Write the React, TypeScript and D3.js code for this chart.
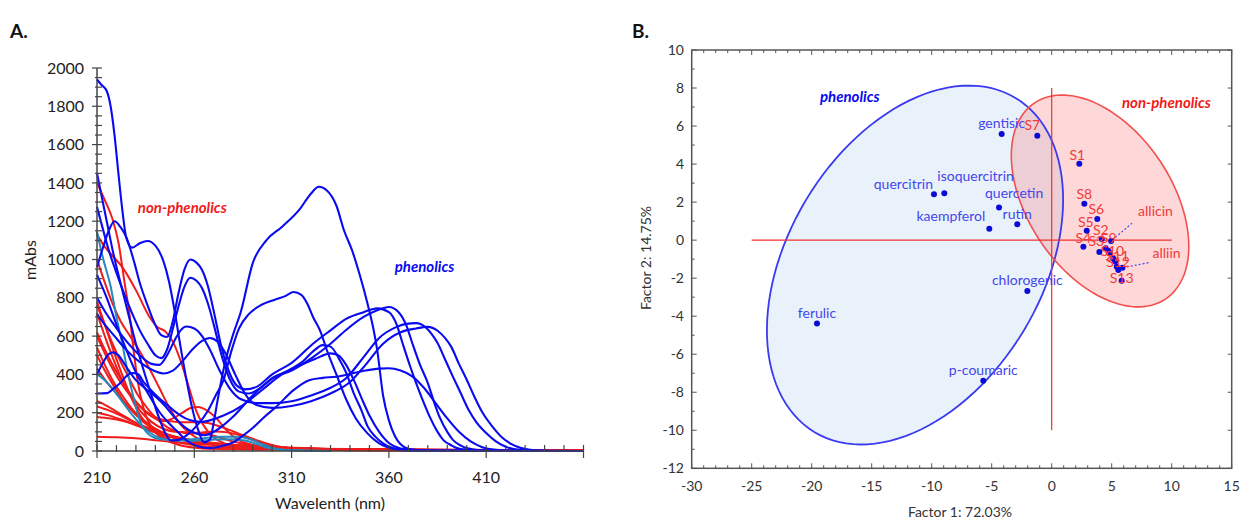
import React from 'react';
import * as d3 from 'd3';

type Pt = [number, number];

// ---------- Panel A: UV spectra, [wavelength (nm), mAbs] ----------
const phenolic1: Pt[] = [[210,1940],[212,1915],[215,1880],[217,1800],[219,1650],[221,1450],[223,1260],[225,1115],[228,1062],[232,1085],[236,1097],[240,1072],[244,995],[247,885],[250,725],[253,540],[256,370],[259,220],[262,110],[265,45],[268,60],[270,150],[272,266],[276,470],[280,610],[284,730],[290,980],[297,1100],[305,1170],[314,1260],[320,1345],[324,1380],[328,1362],[333,1282],[337,1150],[341,1050],[345,920],[349,770],[352,640],[354,527],[357,290],[360,160],[363,80],[366,35],[370,12],[380,2],[460,0]];
const phenolic2: Pt[] = [[210,1450],[212,1350],[215,1200],[218,1050],[222,880],[226,720],[230,560],[234,420],[238,290],[242,170],[245,95],[248,55],[252,58],[257,90],[262,140],[267,210],[271,290],[275,370],[279,520],[283,640],[288,715],[294,760],[302,792],[307,810],[311,830],[315,815],[318,770],[321,700],[325,620],[328,530],[333,400],[338,270],[343,170],[349,92],[355,40],[361,14],[370,2],[460,0]];
const phenolic3: Pt[] = [[210,960],[213,1060],[216,1150],[219,1200],[222,1170],[225,1118],[229,990],[232,877],[236,760],[239,680],[243,605],[246,595],[249,680],[252,830],[255,950],[258,1000],[261,985],[264,945],[267,860],[270,730],[274,540],[278,410],[282,340],[286,322],[292,335],[300,400],[310,460],[321,560],[330,630],[338,690],[347,725],[354,745],[360,725],[364,660],[367,564],[371,440],[374,355],[378,250],[381,178],[385,100],[388,57],[392,30],[395,15],[402,4],[412,0],[460,0]];
const phenolic4: Pt[] = [[210,1275],[213,1160],[216,1050],[220,930],[224,820],[228,720],[232,630],[236,560],[240,500],[243,485],[246,530],[249,640],[252,760],[255,860],[258,905],[261,890],[264,850],[267,770],[270,660],[274,500],[278,380],[283,310],[288,300],[294,330],[300,380],[310,420],[321,490],[330,560],[338,632],[347,700],[354,735],[360,752],[365,725],[369,655],[372,564],[376,450],[380,355],[383,262],[386,178],[390,100],[393,57],[397,28],[400,15],[408,3],[420,0],[460,0]];
const phenolic5: Pt[] = [[210,800],[214,730],[218,670],[223,600],[228,540],[233,490],[238,455],[242,450],[246,500],[250,580],[253,630],[256,650],[260,640],[264,600],[268,530],[273,420],[278,330],[284,270],[292,250],[300,250],[310,260],[320,290],[330,330],[338,380],[347,490],[355,590],[364,648],[369,664],[374,668],[379,645],[382,610],[385,564],[389,475],[393,386],[397,300],[401,214],[405,150],[410,94],[415,50],[420,22],[428,5],[440,0],[460,0]];
const phenolic6: Pt[] = [[210,715],[214,660],[219,600],[224,540],[229,490],[234,450],[239,420],[244,405],[249,420],[254,470],[259,530],[264,575],[268,590],[272,570],[276,510],[281,400],[286,300],[292,240],[300,225],[310,235],[320,260],[330,300],[340,360],[348,450],[357,560],[366,620],[374,640],[380,648],[385,628],[389,588],[392,545],[396,455],[400,372],[404,282],[408,202],[413,130],[418,72],[423,36],[428,15],[436,3],[450,0],[460,0]];
const phenolic7: Pt[] = [[210,400],[213,460],[216,505],[218,515],[221,500],[225,440],[230,370],[235,325],[240,285],[245,235],[250,175],[255,125],[260,95],[265,82],[270,100],[275,135],[280,180],[290,290],[300,378],[310,430],[316,470],[321,520],[326,553],[330,545],[335,470],[338,410],[342,300],[346,210],[349,130],[353,75],[357,40],[362,15],[370,3],[380,0],[460,0]];
const phenolic8: Pt[] = [[210,300],[215,302],[219,330],[222,355],[225,390],[228,407],[231,402],[234,360],[238,315],[241,285],[245,250],[249,215],[253,185],[258,160],[263,152],[268,160],[275,185],[285,240],[295,320],[305,400],[315,450],[322,480],[330,510],[334,500],[338,450],[342,370],[346,275],[350,185],[355,100],[360,42],[366,13],[375,2],[460,0]];
const phenolic9: Pt[] = [[210,920],[215,800],[220,660],[225,530],[230,410],[236,305],[242,205],[247,145],[251,105],[256,55],[262,24],[268,15],[274,26],[280,45],[285,80],[290,120],[296,178],[302,230],[311,318],[319,370],[326,382],[333,388],[340,402],[348,420],[355,430],[360,432],[366,420],[372,390],[378,330],[384,250],[390,170],[396,100],[402,50],[408,20],[415,6],[425,0],[460,0]];

const nonPhenolic1: Pt[] = [[210,1400],[214,1310],[218,1210],[221,1090],[224,890],[227,690],[229,510],[231,360],[234,220],[239,110],[246,55],[255,25],[268,12],[300,6],[460,1]];
const nonPhenolic2: Pt[] = [[210,1130],[213,1080],[217,1030],[223,960],[230,840],[237,700],[241,648],[245,625],[249,570],[253,470],[257,340],[261,210],[265,130],[270,70],[276,38],[285,22],[300,13],[340,6],[460,1]];
const nonPhenolic3: Pt[] = [[210,1000],[214,880],[218,770],[222,680],[227,600],[232,520],[237,430],[242,330],[247,230],[252,150],[258,90],[265,50],[275,26],[290,14],[330,6],[460,1]];
const nonPhenolic4: Pt[] = [[210,780],[213,690],[216,600],[220,480],[224,370],[228,270],[233,175],[238,115],[244,75],[252,45],[262,28],[280,16],[320,8],[460,2]];
const nonPhenolic5: Pt[] = [[210,760],[214,660],[218,560],[222,470],[226,390],[230,310],[235,235],[240,175],[246,125],[252,100],[258,92],[264,96],[270,102],[278,96],[286,72],[294,42],[302,22],[320,9],[460,1]];
const nonPhenolic6: Pt[] = [[210,620],[214,530],[218,450],[222,380],[227,300],[232,235],[238,180],[244,155],[249,170],[254,200],[258,225],[262,230],[266,215],[271,175],[276,115],[282,62],[290,32],[305,14],[340,6],[460,1]];
const nonPhenolic7: Pt[] = [[210,600],[214,510],[218,430],[222,360],[227,290],[232,232],[238,188],[244,162],[250,153],[256,150],[262,150],[267,146],[272,132],[278,110],[285,82],[292,57],[302,26],[315,11],[350,4],[460,1]];
const nonPhenolic8: Pt[] = [[210,540],[214,450],[218,370],[223,290],[228,220],[234,160],[240,115],[247,82],[255,60],[265,45],[280,30],[300,18],[340,8],[460,2]];
const nonPhenolic9: Pt[] = [[210,500],[214,420],[218,350],[223,270],[229,200],[235,142],[242,97],[250,66],[260,46],[275,30],[300,18],[340,8],[460,2]];
const nonPhenolic10: Pt[] = [[210,430],[215,360],[220,300],[226,232],[232,172],[240,116],[248,80],[258,55],[270,38],[290,22],[320,12],[460,3]];
const nonPhenolic11: Pt[] = [[210,260],[215,236],[220,206],[226,170],[232,136],[240,100],[250,70],[262,48],[280,30],[310,15],[360,6],[460,2]];
const nonPhenolic12: Pt[] = [[210,232],[216,212],[222,186],[228,156],[235,126],[243,96],[252,71],[263,50],[280,32],[310,16],[360,6],[460,2]];
const nonPhenolic13: Pt[] = [[210,200],[216,186],[222,166],[229,140],[236,111],[245,81],[255,60],[268,42],[285,28],[315,14],[360,6],[460,2]];
const nonPhenolic14: Pt[] = [[210,178],[217,170],[224,155],[231,131],[239,101],[248,76],[258,58],[270,42],[290,26],[320,13],[370,5],[460,2]];
const nonPhenolic15: Pt[] = [[210,75],[220,72],[230,66],[240,56],[250,46],[262,36],[280,25],[310,14],[360,6],[460,2]];
const nonPhenolic16: Pt[] = [[210,720],[214,600],[218,490],[222,390],[227,292],[232,212],[238,152],[244,116],[250,101],[256,98],[262,95],[270,80],[280,50],[292,26],[310,10],[350,4],[460,1]];

const other1: Pt[] = [[210,1145],[213,1010],[217,860],[220,700],[223,560],[226,400],[229,270],[232,160],[236,92],[242,62],[250,56],[258,60],[266,68],[274,75],[282,74],[288,64],[294,40],[300,16],[310,4],[330,0]];
const other2: Pt[] = [[210,400],[214,370],[218,325],[223,258],[228,190],[234,122],[240,78],[248,57],[258,53],[268,58],[278,62],[286,55],[292,36],[298,16],[310,4],[330,0]];

const phenolicSpectra = [phenolic1, phenolic2, phenolic3, phenolic4, phenolic5, phenolic6, phenolic7, phenolic8, phenolic9];
const nonPhenolicSpectra = [nonPhenolic1, nonPhenolic2, nonPhenolic3, nonPhenolic4, nonPhenolic5, nonPhenolic6, nonPhenolic7, nonPhenolic8,
  nonPhenolic9, nonPhenolic10, nonPhenolic11, nonPhenolic12, nonPhenolic13, nonPhenolic14, nonPhenolic15, nonPhenolic16];
const otherSpectra = [other1, other2];

const wavelengthLabels = [210, 260, 310, 360, 410];
const mAbsLabels = [0, 200, 400, 600, 800, 1000, 1200, 1400, 1600, 1800, 2000];

// ---------- Panel B: factor scores ----------
const phenolicNames = ['gentisic', 'quercitrin', 'isoquercitrin', 'quercetin', 'kaempferol', 'rutin', 'chlorogenic', 'ferulic', 'p-coumaric'];
const phenolicF1 = [-4.17, -9.81, -8.95, -4.39, -5.2, -2.87, -2.03, -19.56, -5.7];
const phenolicF2 = [5.58, 2.41, 2.46, 1.72, 0.6, 0.83, -2.68, -4.38, -7.4];

const sampleNames = ['S7', 'S1', 'S8', 'S6', 'S5', 'S2', 'S4', 'S3', 'S9', 'S10', 'S11', 'S12', 'S13'];
const sampleF1 = [-1.2, 2.3, 2.72, 3.8, 2.92, 4.17, 2.64, 3.97, 4.5, 4.72, 5.13, 5.28, 5.83];
const sampleF2 = [5.49, 4.02, 1.92, 1.11, 0.5, 0.06, -0.35, -0.63, -0.43, -0.56, -0.96, -1.13, -2.14];

const standardNames = ['allicin', 'alliin'];
const standardF1 = [4.95, 5.9];
const standardF2 = [-0.05, -1.45];

const extraF1 = [4.86, 5.42, 5.55];
const extraF2 = [-0.69, -1.4, -1.57];

const factor1Ticks = [-30, -25, -20, -15, -10, -5, 0, 5, 10, 15];
const factor2Ticks = [-12, -10, -8, -6, -4, -2, 0, 2, 4, 6, 8, 10];

// confidence ellipses: centre and two semi-axis vectors, in factor units
const phenolicCentre = [-11.39, -1.31];
const phenolicAxisA = [8.37, 8.79];
const phenolicAxisB = [9.07, -3.44];
const nonPhenolicCentre = [4.03, 2.06];
const nonPhenolicAxisA = [5.45, -5.16];
const nonPhenolicAxisB = [-5.0, -2.1];

// label layout (anchor, dx, dy in px)
const phenolicLabelLayout: [string, number, number][] = [
  ['middle', 0, -6], ['end', -1, -5], ['start', -7, -12], ['start', -14, -9], ['end', -4, -8],
  ['middle', 0, -5], ['middle', 0, -6], ['middle', 0, -5], ['middle', 0, -6]];
const sampleLabelLayout: [string, number, number][] = [
  ['middle', -5, -6], ['middle', -2, -4], ['middle', 0, -5], ['middle', -1, -5], ['middle', -1, -4],
  ['middle', -1, -4], ['middle', 0, -4], ['middle', -3, -6], ['middle', 3, -5],
  ['middle', 4, 5], ['middle', 4, 3], ['middle', 3, 5], ['middle', 0, 2]];
const standardLabelLayout: [number, number, number, number][] = [
  [27, -25, 21, -18],
  [30, -10, 26, -5]];

const FONT = "Lato, 'Open Sans', sans-serif";
const BLUE = '#0a0af2';
const RED = '#f01c1c';
const TEAL = '#2389bd';
const LBLUE = '#4646ec';
const LRED = '#f23a3a';

const xA = d3.scaleLinear().domain([210, 460]).range([97, 583.5]);
const yA = d3.scaleLinear().domain([0, 2000]).range([451, 68]);
const xB = d3.scaleLinear().domain([-30, 15]).range([691.7, 1231.7]);
const yB = d3.scaleLinear().domain([-12, 10]).range([468.3, 50]);

const spectrumLine = d3.line<Pt>().x(d => xA(d[0])).y(d => yA(d[1])).curve(d3.curveMonotoneX);

function ellipsePath(c: number[], a: number[], b: number[]) {
  const pts: Pt[] = d3.range(0, 121).map(i => {
    const t = (i / 120) * Math.PI * 2;
    return [xB(c[0] + a[0] * Math.cos(t) + b[0] * Math.sin(t)), yB(c[1] + a[1] * Math.cos(t) + b[1] * Math.sin(t))];
  });
  return d3.line().curve(d3.curveLinearClosed)(pts as [number, number][]) || '';
}

const PanelA = () => {
  const minorX = d3.range(210, 461, 10);
  const minorY = d3.range(0, 2001, 50);
  return (
    <g>
      <text x={10} y={38} fontFamily={FONT} fontWeight="bold" fontSize={19} fill="#111">A.</text>
      {nonPhenolicSpectra.map((s, i) => (
        <path key={'r' + i} d={spectrumLine(s) || ''} fill="none" stroke={RED} strokeWidth={2} />
      ))}
      {otherSpectra.map((s, i) => (
        <path key={'t' + i} d={spectrumLine(s) || ''} fill="none" stroke={TEAL} strokeWidth={2} />
      ))}
      {phenolicSpectra.map((s, i) => (
        <path key={'b' + i} d={spectrumLine(s) || ''} fill="none" stroke={BLUE} strokeWidth={2.1} />
      ))}
      {/* axes */}
      <line x1={xA(210)} x2={xA(210)} y1={yA(0)} y2={yA(2000)} stroke="#444" strokeWidth={1.5} />
      <line x1={xA(210)} x2={xA(460)} y1={yA(0)} y2={yA(0)} stroke="#444" strokeWidth={1.5} />
      {minorY.map(v => (
        <line key={'my' + v} x1={xA(210) - (v % 200 === 0 ? 5 : 2)} x2={xA(210) + 5} y1={yA(v)} y2={yA(v)} stroke="#444" strokeWidth={1.2} />
      ))}
      {minorX.map(v => (
        <line key={'mx' + v} x1={xA(v)} x2={xA(v)} y1={yA(0) - 6} y2={yA(0) + ((v - 210) % 50 === 0 ? 7 : 1)} stroke="#444" strokeWidth={1.2} />
      ))}
      {mAbsLabels.map(v => (
        <text key={'ly' + v} x={xA(210) - 13} y={yA(v)} dy="0.35em" textAnchor="end" fontFamily={FONT} fontSize={16} fill="#222">{v}</text>
      ))}
      {wavelengthLabels.map(v => (
        <text key={'lx' + v} x={xA(v)} y={483} textAnchor="middle" fontFamily={FONT} fontSize={16} fill="#222">{v}</text>
      ))}
      <text x={330} y={509} textAnchor="middle" fontFamily={FONT} fontSize={16} fill="#222">Wavelenth (nm)</text>
      <text transform="translate(36,260) rotate(-90)" textAnchor="middle" fontFamily={FONT} fontSize={16} fill="#222">mAbs</text>
      <text x={xA(231)} y={yA(1270) + 5} fontFamily={FONT} fontSize={15} fontWeight="bold" fontStyle="italic" fill={RED}>non-phenolics</text>
      <text x={xA(363)} y={yA(960) + 5} fontFamily={FONT} fontSize={15} fontWeight="bold" fontStyle="italic" fill={BLUE}>phenolics</text>
    </g>
  );
};

const PanelB = () => {
  const x0 = xB(-30), x1 = xB(15), y0 = yB(-12), y1 = yB(10);
  const ticksX = d3.range(-30, 16, 1);
  const ticksY = d3.range(-12, 11, 1);
  return (
    <g>
      <text x={632} y={38} fontFamily={FONT} fontWeight="bold" fontSize={19} fill="#111">B.</text>
      <path d={ellipsePath(phenolicCentre, phenolicAxisA, phenolicAxisB)} fill="#e9f2fb" stroke="none" />
      <path d={ellipsePath(nonPhenolicCentre, nonPhenolicAxisA, nonPhenolicAxisB)} fill="rgba(250,90,90,0.24)" stroke="none" />
      <path d={ellipsePath(phenolicCentre, phenolicAxisA, phenolicAxisB)} fill="none" stroke="#3a3af0" strokeWidth={1.8} />
      <path d={ellipsePath(nonPhenolicCentre, nonPhenolicAxisA, nonPhenolicAxisB)} fill="none" stroke="#f25050" strokeWidth={1.6} />
      <line x1={xB(-25)} x2={xB(10)} y1={yB(0)} y2={yB(0)} stroke="#f03030" strokeWidth={1.2} />
      <line x1={xB(0)} x2={xB(0)} y1={yB(-10)} y2={yB(8)} stroke="#f03030" strokeWidth={1.2} />
      {/* frame */}
      <rect x={x0} y={y1} width={x1 - x0} height={y0 - y1} fill="none" stroke="#555" strokeWidth={1.5} />
      {ticksX.map(v => (
        <g key={'tx' + v}>
          <line x1={xB(v)} x2={xB(v)} y1={y0} y2={y0 - (v % 5 === 0 ? 5 : 3)} stroke="#555" strokeWidth={1} />
          <line x1={xB(v)} x2={xB(v)} y1={y1} y2={y1 + (v % 5 === 0 ? 5 : 3)} stroke="#555" strokeWidth={1} />
        </g>
      ))}
      {ticksY.map(v => (
        <g key={'ty' + v}>
          <line x1={x0} x2={x0 + (v % 2 === 0 ? 5 : 3)} y1={yB(v)} y2={yB(v)} stroke="#555" strokeWidth={1} />
          {v % 2 === 0 && <line x1={x1} x2={x1 - 4} y1={yB(v)} y2={yB(v)} stroke="#555" strokeWidth={1} />}
        </g>
      ))}
      {factor1Ticks.map(v => (
        <text key={'l1' + v} x={xB(v)} y={491} textAnchor="middle" fontFamily={FONT} fontSize={14} fill="#333">{v}</text>
      ))}
      {factor2Ticks.map(v => (
        <text key={'l2' + v} x={684} y={yB(v)} dy="0.35em" textAnchor="end" fontFamily={FONT} fontSize={14} fill="#333">{v}</text>
      ))}
      <text x={960} y={517} textAnchor="middle" fontFamily={FONT} fontSize={14} fill="#333">Factor 1: 72.03%</text>
      <text transform="translate(651,258) rotate(-90)" textAnchor="middle" fontFamily={FONT} fontSize={14} fill="#333">Factor 2: 14.75%</text>

      {/* dotted leaders for standards */}
      {standardNames.map((n, i) => (
        <line key={'dl' + n} x1={xB(standardF1[i]) + standardLabelLayout[i][2]} y1={yB(standardF2[i]) + standardLabelLayout[i][3]}
          x2={xB(standardF1[i])} y2={yB(standardF2[i])} stroke={LBLUE} strokeWidth={1.2} strokeDasharray="2,2" />
      ))}
      {/* points */}
      {phenolicNames.map((n, i) => (
        <circle key={'pp' + n} cx={xB(phenolicF1[i])} cy={yB(phenolicF2[i])} r={3} fill="#0b0bd8" />
      ))}
      {sampleNames.map((n, i) => (
        <circle key={'sp' + n} cx={xB(sampleF1[i])} cy={yB(sampleF2[i])} r={3} fill="#0b0bd8" />
      ))}
      {extraF1.map((v, i) => (
        <circle key={'ep' + i} cx={xB(v)} cy={yB(extraF2[i])} r={3} fill="#0b0bd8" />
      ))}
      {standardNames.map((n, i) => (
        <circle key={'stp' + n} cx={xB(standardF1[i])} cy={yB(standardF2[i])} r={3} fill="#0b0bd8" />
      ))}
      {/* labels */}
      {phenolicNames.map((n, i) => (
        <text key={'pl' + n} x={xB(phenolicF1[i]) + phenolicLabelLayout[i][1]} y={yB(phenolicF2[i]) + phenolicLabelLayout[i][2]}
          textAnchor={phenolicLabelLayout[i][0]} fontFamily={FONT} fontSize={14} fill={LBLUE}>{n}</text>
      ))}
      {sampleNames.map((n, i) => (
        <text key={'sl' + n} x={xB(sampleF1[i]) + sampleLabelLayout[i][1]} y={yB(sampleF2[i]) + sampleLabelLayout[i][2]}
          textAnchor={sampleLabelLayout[i][0]} fontFamily={FONT} fontSize={14} fill={LRED}>{n}</text>
      ))}
      {standardNames.map((n, i) => (
        <text key={'stl' + n} x={xB(standardF1[i]) + standardLabelLayout[i][0]} y={yB(standardF2[i]) + standardLabelLayout[i][1]}
          fontFamily={FONT} fontSize={14} fill={LRED}>{n}</text>
      ))}
      <text x={820} y={102} fontFamily={FONT} fontSize={15} fontWeight="bold" fontStyle="italic" fill={BLUE}>phenolics</text>
      <text x={1122} y={108} fontFamily={FONT} fontSize={15} fontWeight="bold" fontStyle="italic" fill={RED}>non-phenolics</text>
    </g>
  );
};

export default function App() {
  return (
    <svg width={1241} height={521} style={{ position: 'absolute', left: 0, top: 0, background: '#fff' }}>
      <rect x={0} y={0} width={1241} height={521} fill="#fff" />
      <PanelA />
      <PanelB />
    </svg>
  );
}
